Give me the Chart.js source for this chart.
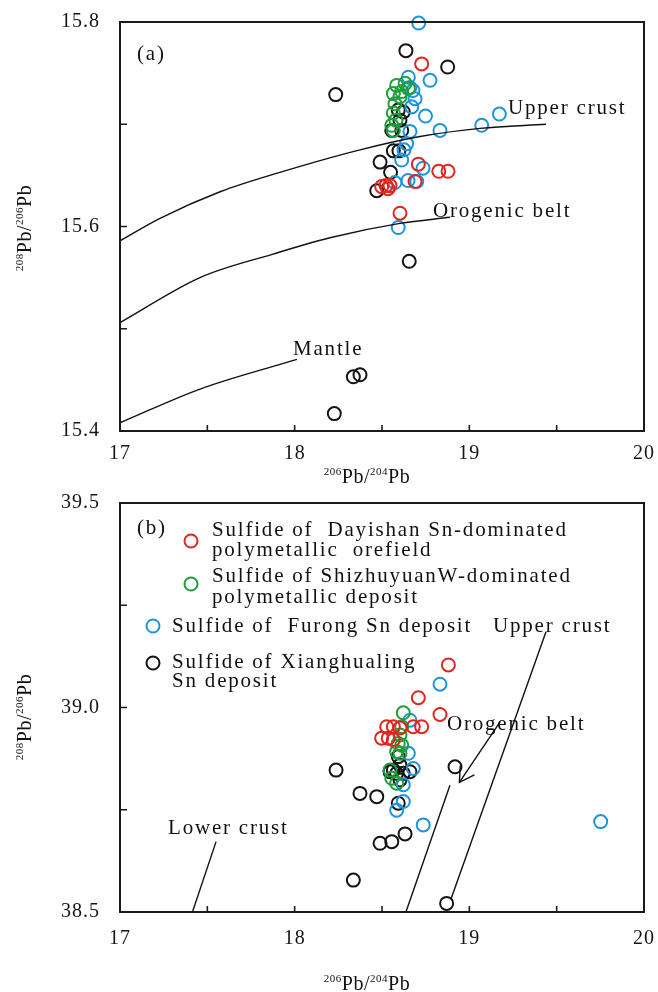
<!DOCTYPE html>
<html>
<head>
<meta charset="utf-8">
<script src="https://cdn.jsdelivr.net/npm/chart.js@4.4.1/dist/chart.umd.min.js"></script>
<style>
  body { margin: 0; background: #fff; }
  #wrap { position: relative; width: 658px; height: 992px; }
  canvas { position: absolute; left: 0; }
  #chartA { top: 0; }
  #chartB { top: 490px; }
</style>
</head>
<body>
<div id="wrap">
  <canvas id="chartA" width="658" height="490"></canvas>
  <canvas id="chartB" width="658" height="502"></canvas>
</div>
<script>
// ---- data: panel (a) 208Pb/206Pb vs 206Pb/204Pb ----
const dayishanA = [[18.727,15.759],[18.708,15.661],[18.825,15.654],[18.878,15.654],[18.689,15.644],
  [18.498,15.639],[18.523,15.640],[18.546,15.640],[18.534,15.637],[18.603,15.613]];
const shizhuyuanA = [[18.584,15.738],[18.632,15.740],[18.613,15.732],[18.651,15.735],[18.565,15.730],
  [18.603,15.727],[18.574,15.720],[18.565,15.711],[18.580,15.704],[18.556,15.699],[18.565,15.694]];
const furongA = [[18.710,15.799],[18.651,15.746],[18.775,15.743],[18.660,15.736],[18.677,15.733],
  [18.689,15.725],[18.670,15.717],[18.749,15.708],[18.832,15.694],[18.660,15.693],[19.071,15.699],
  [19.172,15.710],[18.641,15.681],[18.626,15.675],[18.613,15.665],[18.735,15.657],[18.649,15.645],
  [18.699,15.644],[18.574,15.643],[18.593,15.599]];
const xianghualingA = [[18.637,15.772],[18.876,15.756],[18.235,15.729],[18.593,15.714],[18.622,15.712],
  [18.603,15.704],[18.556,15.694],[18.613,15.694],[18.565,15.674],[18.597,15.674],[18.489,15.663],
  [18.549,15.653],[18.470,15.635],[18.656,15.566],[18.336,15.453],[18.374,15.455],[18.227,15.417]];
const upperCrustA = [[17.0,15.586],[17.229,15.608],[17.573,15.634],[17.916,15.653],[18.374,15.675],
  [18.718,15.688],[19.061,15.696],[19.439,15.700]];
const orogenA = [[17.0,15.506],[17.458,15.550],[17.876,15.573],[18.202,15.589],[18.603,15.603],[18.889,15.609]];
const mantleA = [[17.0,15.408],[17.458,15.441],[18.013,15.470]];

// ---- data: panel (b) ----
const dayishanB = [[18.880,39.104],[18.708,39.024],[18.832,38.983],[18.527,38.953],[18.565,38.953],
  [18.603,38.950],[18.679,38.953],[18.727,38.953],[18.498,38.925],[18.536,38.925],[18.565,38.921]];
const shizhuyuanB = [[18.622,38.987],[18.613,38.953],[18.603,38.933],[18.593,38.912],[18.613,38.908],
  [18.584,38.892],[18.603,38.888],[18.546,38.847],[18.556,38.827],[18.584,38.815]];
const furongB = [[18.832,39.057],[18.660,38.969],[18.651,38.888],[18.679,38.851],[18.622,38.811],
  [18.622,38.770],[18.584,38.749],[18.736,38.713],[19.752,38.721]];
const xianghualingB = [[18.593,38.880],[18.603,38.859],[18.565,38.847],[18.546,38.843],[18.584,38.839],
  [18.622,38.839],[18.660,38.843],[18.603,38.823],[18.918,38.855],[18.237,38.847],[18.374,38.790],
  [18.470,38.782],[18.593,38.766],[18.489,38.668],[18.556,38.672],[18.632,38.691],[18.336,38.578],
  [18.870,38.521]];
const lowerCrustB = [[17.550,38.672],[17.414,38.499]];
const upperCrustB = [[19.439,39.185],[18.895,38.532]];
const orogenB = [[18.889,38.810],[18.637,38.500]];
const arrowB = [[19.176,38.965],[18.943,38.817]];
const arrowHeadB = [[19.029,38.835],[18.943,38.817],[18.948,38.858]];

// ---- ticks ----
const xLabels = [17, 18, 19, 20];
const yLabelsA = [15.4, 15.6, 15.8];
const yLabelsB = [38.5, 39.0, 39.5];

const FONT = "'Liberation Serif', 'Times New Roman', serif";
const RED = '#e0261e', GREEN = '#1f9e3c', BLUE = '#1d95da', BLACK = '#141414';

function pts(arr) { return arr.map(([x, y]) => ({ x, y })); }

function markers(arr, color) {
  return {
    type: 'scatter', data: pts(arr), borderColor: color, backgroundColor: 'rgba(0,0,0,0)',
    pointRadius: 6.5, pointBorderWidth: 2, pointHoverRadius: 6.5, showLine: false, clip: false
  };
}

function curve(arr, smooth) {
  return {
    type: 'line', data: pts(arr), borderColor: '#111', borderWidth: 1.4, pointRadius: 0,
    tension: smooth ? 0.4 : 0, cubicInterpolationMode: smooth ? 'monotone' : 'default', fill: false
  };
}

// no overflow padding from tick labels, chart area is pinned by layout padding
function noPad(s) { s.paddingTop = s.paddingBottom = s.paddingLeft = s.paddingRight = 0; }

// draws "ⁿPb/ᵐPb" with superscripts, centred on (cx, cy)
function drawIsotope(ctx, sup1, sup2, cx, cy, rot) {
  const parts = [[sup1, true], ['Pb', false], ['/', false], [sup2, true], ['Pb', false]];
  ctx.save();
  ctx.translate(cx, cy);
  ctx.rotate(rot);
  ctx.letterSpacing = '0.5px';
  ctx.textAlign = 'left';
  ctx.textBaseline = 'alphabetic';
  let w = 0;
  parts.forEach(([s, sup]) => { ctx.font = (sup ? '11px ' : '20px ') + FONT; w += ctx.measureText(s).width; });
  let x = -w / 2;
  parts.forEach(([s, sup]) => {
    ctx.font = (sup ? '11px ' : '20px ') + FONT;
    ctx.fillText(s, x, sup ? -8 : 0);
    x += ctx.measureText(s).width;
  });
  ctx.restore();
}

const deco = {
  id: 'deco',
  beforeDraw(chart) { chart.ctx.letterSpacing = '1px'; },
  afterDraw(chart, args, o) {
    const { ctx, chartArea: a, scales: { x, y } } = chart;
    ctx.save();
    ctx.strokeStyle = '#1a1a1a';
    ctx.lineWidth = 2;
    ctx.strokeRect(a.left, a.top, a.right - a.left, a.bottom - a.top);
    // inward ticks
    ctx.lineWidth = 1.6;
    ctx.beginPath();
    x.ticks.forEach(t => {
      if (t.value <= x.min || t.value >= x.max) return;
      const px = x.getPixelForValue(t.value);
      ctx.moveTo(px, a.bottom); ctx.lineTo(px, a.bottom - 6);
    });
    y.ticks.forEach(t => {
      if (t.value <= y.min || t.value >= y.max) return;
      const py = y.getPixelForValue(t.value);
      ctx.moveTo(a.left, py); ctx.lineTo(a.left + 7, py);
    });
    ctx.stroke();
    // annotations and legend text
    ctx.fillStyle = '#111';
    ctx.font = '21px ' + FONT;
    ctx.letterSpacing = '1.8px';
    ctx.textAlign = 'left';
    ctx.textBaseline = 'alphabetic';
    o.texts.forEach(t => ctx.fillText(t.text, t.x, t.y));
    (o.keys || []).forEach(k => {
      ctx.beginPath();
      ctx.arc(k.x, k.y, 6.5, 0, Math.PI * 2);
      ctx.strokeStyle = k.color;
      ctx.lineWidth = 2;
      ctx.stroke();
    });
    drawIsotope(ctx, '206', '204', o.xTitle[0], o.xTitle[1], 0);
    drawIsotope(ctx, '208', '206', o.yTitle[0], o.yTitle[1], -Math.PI / 2);
    ctx.restore();
  }
};

function buildChart(id, cfg) {
  return new Chart(document.getElementById(id), {
    type: 'scatter',
    data: { datasets: cfg.datasets },
    options: {
      responsive: false,
      animation: false,
      events: [],
      layout: { padding: { top: cfg.top, right: 14, left: 0, bottom: 0 } },
      plugins: { legend: { display: false }, tooltip: { enabled: false }, deco: cfg.deco },
      scales: {
        x: {
          type: 'linear', min: 17, max: 20,
          afterFit: s => { s.height = cfg.xHeight; noPad(s); },
          grid: { display: false, drawTicks: false },
          border: { display: false },
          ticks: {
            stepSize: 0.5, padding: cfg.xPad, color: '#151515', maxRotation: 0,
            font: { family: FONT, size: 20 },
            callback: v => xLabels.includes(+v.toFixed(2)) ? String(Math.round(v)) : ''
          }
        },
        y: {
          type: 'linear', min: cfg.yMin, max: cfg.yMax,
          afterFit: s => { s.width = 120; noPad(s); },
          grid: { display: false, drawTicks: false },
          border: { display: false },
          ticks: {
            stepSize: cfg.yStep, padding: 20, color: '#151515',
            font: { family: FONT, size: 20 },
            callback: v => cfg.yLabels.includes(+v.toFixed(2)) ? v.toFixed(1) : ''
          }
        }
      }
    },
    plugins: [deco]
  });
}

buildChart('chartA', {
  top: 22, xHeight: 59, xPad: 11, yMin: 15.4, yMax: 15.8, yStep: 0.1, yLabels: yLabelsA,
  datasets: [
    curve(upperCrustA, true), curve(orogenA, true), curve(mantleA, true),
    markers(dayishanA, RED), markers(shizhuyuanA, GREEN), markers(furongA, BLUE), markers(xianghualingA, BLACK)
  ],
  deco: {
    texts: [
      { text: '(a)', x: 137, y: 60 },
      { text: 'Upper crust', x: 508, y: 114 },
      { text: 'Orogenic belt', x: 433, y: 217 },
      { text: 'Mantle', x: 293, y: 355 }
    ],
    xTitle: [367, 483],
    yTitle: [31, 228]
  }
});

buildChart('chartB', {
  top: 13, xHeight: 80, xPad: 15, yMin: 38.5, yMax: 39.5, yStep: 0.25, yLabels: yLabelsB,
  datasets: [
    curve(lowerCrustB, false), curve(upperCrustB, false), curve(orogenB, false),
    curve(arrowB, false), curve(arrowHeadB, false),
    markers(dayishanB, RED), markers(shizhuyuanB, GREEN), markers(furongB, BLUE), markers(xianghualingB, BLACK)
  ],
  deco: {
    texts: [
      { text: '(b)', x: 137, y: 44 },
      { text: 'Sulfide of  Dayishan Sn-dominated', x: 212, y: 46 },
      { text: 'polymetallic  orefield', x: 212, y: 66 },
      { text: 'Sulfide of ShizhuyuanW-dominated', x: 212, y: 92 },
      { text: 'polymetallic deposit', x: 212, y: 113 },
      { text: 'Sulfide of  Furong Sn deposit', x: 172, y: 142 },
      { text: 'Sulfide of Xianghualing', x: 172, y: 178 },
      { text: 'Sn deposit', x: 172, y: 197 },
      { text: 'Upper crust', x: 493, y: 142 },
      { text: 'Orogenic belt', x: 447, y: 240 },
      { text: 'Lower crust', x: 168, y: 344 }
    ],
    keys: [
      { x: 191, y: 51, color: RED },
      { x: 191, y: 94, color: GREEN },
      { x: 153, y: 136, color: BLUE },
      { x: 153, y: 173, color: BLACK }
    ],
    xTitle: [367, 500],
    yTitle: [31, 227]
  }
});
</script>
</body>
</html>
